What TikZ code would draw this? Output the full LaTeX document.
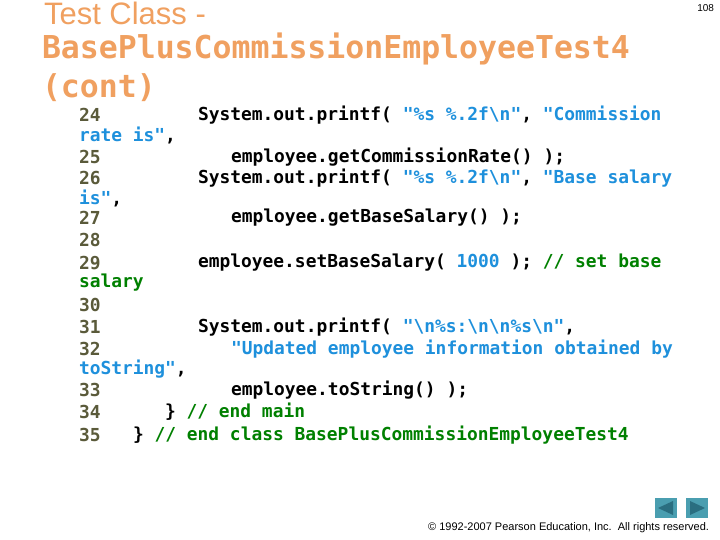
\documentclass[tikz,border=0pt]{standalone}
\usepackage{fontspec}
\usetikzlibrary{calc}
\setmainfont{Liberation Sans}
\setmonofont{DejaVu Sans Mono}
\begin{document}
\begin{tikzpicture}[x=1pt,y=-1pt,
  every node/.style={inner sep=0pt,outer sep=0pt},
  code/.style={anchor=west,font=\ttfamily\bfseries\fontsize{17.9}{20}\selectfont},
  ln/.style={code,text=lnc},
  ttl/.style={anchor=west,text=ttlc,font=\ttfamily\bfseries\fontsize{31.5}{36}\selectfont},
  btn/.style={fill=btnc,draw=none},
  tri/.style={fill=tric,draw=none}]
\definecolor{ttlc}{HTML}{F0A060}
\definecolor{lnc}{HTML}{5A5A3A}
\definecolor{strc}{HTML}{1E90DC}
\definecolor{cmc}{HTML}{008000}
\definecolor{btnc}{HTML}{4A9EB0}
\definecolor{tric}{HTML}{2A6E80}
\useasboundingbox[fill=white] (0,0) rectangle (720,540);
\newcommand{\bs}{\textbackslash}
\node[anchor=west,text=ttlc,font=\fontsize{31}{34}\selectfont] (t1) at (44,13) {Test Class -};
\node[ttl] (t2) at (42,49) {BasePlusCommissionEmployeeTest4};
\node[ttl] (t3) at (42,88) {(cont)};
\node[anchor=north east,font=\fontsize{10}{12}\selectfont] (pg) at (714,5) {108};
% line numbers
\node[ln] (n24) at (79,115) {24};
\node[ln] (n25) at (79,157) {25};
\node[ln] (n26) at (79,178) {26};
\node[ln] (n27) at (79,218) {27};
\node[ln] (n28) at (79,240) {28};
\node[ln] (n29) at (79,263) {29};
\node[ln] (n30) at (79,305) {30};
\node[ln] (n31) at (79,327) {31};
\node[ln] (n32) at (79,349) {32};
\node[ln] (n33) at (79,390) {33};
\node[ln] (n34) at (79,412) {34};
\node[ln] (n35) at (79,435) {35};
% code
\node[code] (c24) at (198,115) {System.out.printf( \textcolor{strc}{"\%s \%.2f\bs n"}, \textcolor{strc}{"Commission}};
\node[code] (c24b) at (79,135) {\textcolor{strc}{rate is"},};
\node[code] (c25) at (231,157) {employee.getCommissionRate() );};
\node[code] (c26) at (198,178) {System.out.printf( \textcolor{strc}{"\%s \%.2f\bs n"}, \textcolor{strc}{"Base salary}};
\node[code] (c26b) at (79,198) {\textcolor{strc}{is"},};
\node[code] (c27) at (231,218) {employee.getBaseSalary() );};
\node[code] (c29) at (198,263) {employee.setBaseSalary( \textcolor{strc}{1000} ); \textcolor{cmc}{// set base}};
\node[code,text=cmc] (c29b) at (79,283) {salary};
\node[code] (c31) at (198,327) {System.out.printf( \textcolor{strc}{"\bs n\%s:\bs n\bs n\%s\bs n"},};
\node[code,text=strc] (c32) at (231,349) {"Updated employee information obtained by};
\node[code] (c32b) at (79,369) {\textcolor{strc}{toString"},};
\node[code] (c33) at (231,390) {employee.toString() );};
\node[code] (c34) at (165,412) {\} \textcolor{cmc}{// end main}};
\node[code] (c35) at (133,435) {\} \textcolor{cmc}{// end class BasePlusCommissionEmployeeTest4}};
% footer
\node[anchor=east,font=\fontsize{11}{13}\selectfont] (cp) at (709,528) {\textcopyright{} 1992-2007 Pearson Education, Inc.\ \ All rights reserved.};
\node[btn,minimum width=22pt,minimum height=20pt] (b1) at (666,508) {};
\node[btn,minimum width=22pt,minimum height=20pt] (b2) at (697,508) {};
\fill[tric] ($(b1.center)+(-8,0)$) -- ($(b1.center)+(7,-7)$) -- ($(b1.center)+(7,7)$) -- cycle;
\fill[tric] ($(b2.center)+(8,0)$) -- ($(b2.center)+(-7,-7)$) -- ($(b2.center)+(-7,7)$) -- cycle;
\end{tikzpicture}
\end{document}
